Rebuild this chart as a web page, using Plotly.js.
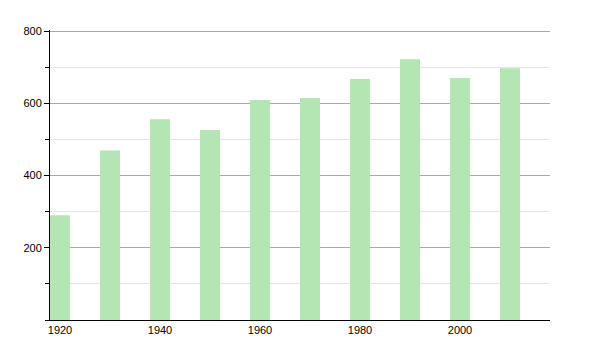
<!DOCTYPE html>
<html>
<head>
<meta charset="utf-8">
<script src="https://cdn.plot.ly/plotly-3.0.1.min.js"></script>
<style>html,body{margin:0;padding:0;background:#fff;}#chart{width:600px;height:350px;}</style>
</head>
<body>
<div id="chart"></div>
<script>
var years = [1920, 1930, 1940, 1950, 1960, 1970, 1980, 1990, 2000, 2010];
var values = [290, 469, 556, 526, 609, 615, 667, 722, 670, 697];
var xTickVals = [1920, 1940, 1960, 1980, 2000];
var yTickVals = [200, 400, 600, 800];

var trace = {
  type: 'bar',
  x: years,
  y: values,
  width: 4,
  marker: {color: '#b3e6b3', line: {width: 0}},
  hoverinfo: 'x+y'
};

var layout = {
  width: 600,
  height: 350,
  margin: {l: 50, r: 50, t: 30, b: 30, pad: 0},
  paper_bgcolor: '#ffffff',
  plot_bgcolor: '#ffffff',
  showlegend: false,
  font: {family: 'Liberation Sans, Arial, sans-serif', size: 11, color: '#000'},
  xaxis: {
    range: [1918, 2018],
    tickvals: xTickVals,
    ticktext: xTickVals.map(String),
    ticks: '',
    showgrid: false,
    zeroline: false,
    showline: true,
    linecolor: '#000',
    linewidth: 1,
    tickfont: {size: 11, color: '#000'}
  },
  yaxis: {
    range: [0, 803],
    tickvals: yTickVals,
    ticktext: yTickVals.map(String),
    ticks: 'outside',
    ticklen: 5,
    tickcolor: '#000',
    showgrid: true,
    gridcolor: '#a8a8a8',
    gridwidth: 1,
    zeroline: false,
    showline: true,
    linecolor: '#000',
    linewidth: 1,
    tickfont: {size: 11, color: '#000'},
    minor: {
      dtick: 100,
      tick0: 0,
      ticks: 'outside',
      ticklen: 4,
      tickcolor: '#000',
      showgrid: true,
      gridcolor: '#e6e6e6',
      gridwidth: 1
    }
  }
};

Plotly.newPlot('chart', [trace], layout, {staticPlot: true, displayModeBar: false});
</script>
</body>
</html>
